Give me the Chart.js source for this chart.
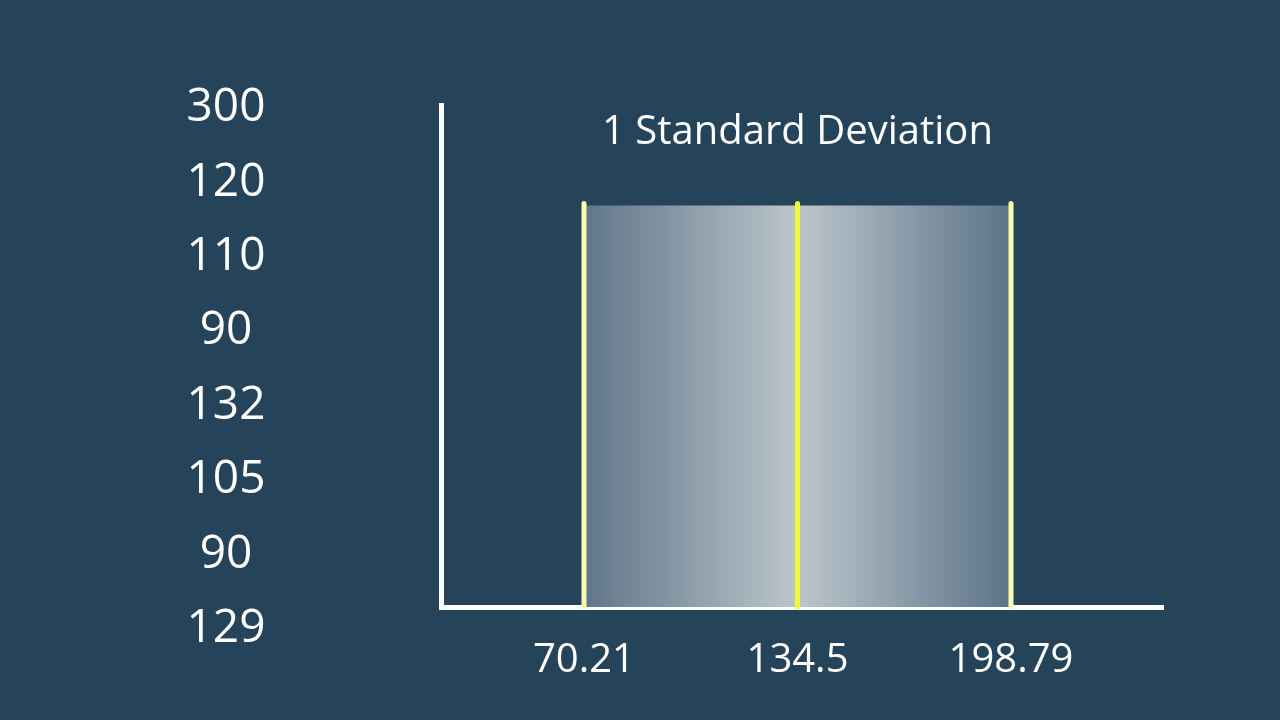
<!DOCTYPE html>
<html>
<head>
<meta charset="utf-8">
<script src="https://cdn.jsdelivr.net/npm/chart.js@4.4.1/dist/chart.umd.min.js"></script>
<style>
    html, body { margin: 0; padding: 0; background: #254359; }
    #wrap { width: 1280px; height: 720px; }
</style>
</head>
<body>
<div id="wrap"><canvas id="sdChart" width="1280" height="720"></canvas></div>
<script>
// ==================== dati ====================
const campioni = [300, 120, 110, 90, 132, 105, 90, 129];   // colonna a sinistra
const marcatori = [70.21, 134.5, 198.79];                   // media -1sd, media, media +1sd
const etichetteX = ['70.21', '134.5', '198.79'];
const altezzaBanda = 80;                                    // altezza della banda (scala 0-100)
const titolo = '1 Standard Deviation';

const FONT = "'Open Sans', sans-serif";
const BIANCO = '#ffffff';

// Banda sfumata (chiara al centro, scura ai bordi)
function sfumaturaBanda(context) {
    const chart = context.chart;
    const { ctx, chartArea, scales } = chart;
    if (!chartArea) return 'rgba(190,200,206,0.8)';
    const x0 = scales.x.getPixelForValue(marcatori[0]);
    const x1 = scales.x.getPixelForValue(marcatori[2]);
    const g = ctx.createLinearGradient(x0, 0, x1, 0);
    g.addColorStop(0, '#5f7689');
    g.addColorStop(0.5, '#bcc6cc');
    g.addColorStop(1, '#5c7489');
    return g;
}

// Testi fuori dall'area del grafico: elenco campioni e titolo
const testiPlugin = {
    id: 'testi',
    afterDraw(chart) {
        const { ctx, scales } = chart;
        ctx.save();
        ctx.fillStyle = BIANCO;
        ctx.textAlign = 'center';
        ctx.textBaseline = 'middle';

        ctx.font = '400 46px ' + FONT;
        const passo = (628 - 107) / (campioni.length - 1);
        campioni.forEach((v, i) => {
            ctx.fillText(String(v), 226, 108 + i * passo);
        });

        ctx.font = '400 40px ' + FONT;
        ctx.fillText(titolo, scales.x.getPixelForValue(marcatori[1]), 133);
        ctx.restore();
    }
};

const datasetLinee = marcatori.map((v, i) => ({
    label: 'marcatore ' + etichetteX[i],
    data: [{ x: v, y: 0 }, { x: v, y: altezzaBanda + 0.4 }],
    borderColor: i === 1 ? '#eefc3c' : '#fbfdae',
    borderWidth: 5,
    borderCapStyle: 'round',
    pointRadius: 0,
    fill: false,
    clip: false,
    order: 1
}));

new Chart(document.getElementById('sdChart').getContext('2d'), {
    type: 'line',
    data: {
        datasets: [
            ...datasetLinee,
            {
                label: 'banda',
                data: [{ x: marcatori[0], y: altezzaBanda }, { x: marcatori[2], y: altezzaBanda }],
                borderWidth: 0,
                pointRadius: 0,
                fill: 'origin',
                backgroundColor: sfumaturaBanda,
                order: 2
            }
        ]
    },
    options: {
        responsive: false,
        animation: false,
        layout: {
            padding: { left: 433, right: 117, top: 105, bottom: 13 }
        },
        plugins: {
            legend: { display: false },
            tooltip: { enabled: false }
        },
        scales: {
            x: {
                type: 'linear',
                min: 27.15,
                max: 244.56,
                grid: { display: false },
                border: { display: true, color: BIANCO, width: 5 },
                afterBuildTicks: (scale) => {
                    scale.ticks = marcatori.map(v => ({ value: v }));
                },
                ticks: {
                    autoSkip: false,
                    maxRotation: 0,
                    padding: 22,
                    color: BIANCO,
                    font: { family: FONT, size: 40 },
                    callback: (value) => {
                        const i = marcatori.indexOf(value);
                        return i >= 0 ? etichetteX[i] : '';
                    }
                }
            },
            y: {
                min: 0,
                max: 100,
                grid: { display: false },
                border: { display: true, color: BIANCO, width: 5 },
                ticks: { display: false }
            }
        }
    },
    plugins: [testiPlugin]
});
</script>
</body>
</html>
